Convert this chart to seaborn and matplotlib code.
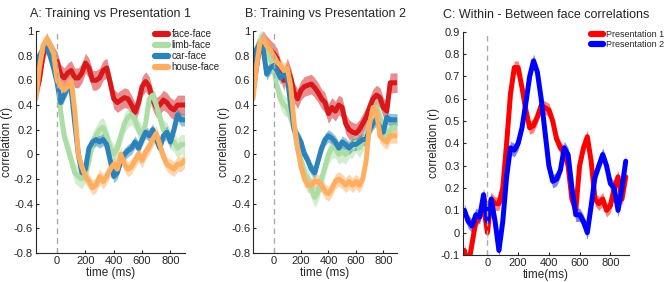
import numpy as np
import pandas as pd
import matplotlib
matplotlib.use('Agg')
import matplotlib.pyplot as plt
from matplotlib.lines import Line2D
import seaborn as sns

# time axis (ms)
times = list(range(-150, 901, 25))

# Panel A: training vs presentation 1
a_face = [0.50, 0.60, 0.80, 0.90, 0.85, 0.80, 0.75, 0.65, 0.62, 0.66, 0.68, 0.62, 0.62, 0.66,
          0.74, 0.70, 0.60, 0.60, 0.62, 0.68, 0.70, 0.58, 0.45, 0.42, 0.44, 0.46, 0.45, 0.40,
          0.34, 0.42, 0.55, 0.59, 0.55, 0.44, 0.38, 0.40, 0.44, 0.42, 0.38, 0.36, 0.40, 0.40, 0.40]
a_limb = [0.60, 0.75, 0.85, 0.90, 0.85, 0.80, 0.65, 0.35, 0.15, 0.05, -0.05, -0.15, -0.18, -0.20,
          -0.15, -0.05, 0.10, 0.15, 0.20, 0.22, 0.15, 0.05, 0.00, 0.05, 0.15, 0.25, 0.30, 0.32,
          0.28, 0.20, 0.15, 0.25, 0.45, 0.48, 0.40, 0.30, 0.20, 0.18, 0.12, 0.10, 0.05, 0.08, 0.08]
a_car = [0.65, 0.80, 0.85, 0.88, 0.80, 0.70, 0.58, 0.42, 0.48, 0.55, 0.52, 0.25, 0.00, -0.15,
         -0.12, 0.05, 0.10, 0.12, 0.10, 0.12, 0.08, -0.05, -0.18, -0.15, -0.05, 0.00, 0.03, 0.05,
         0.10, 0.05, 0.12, 0.18, 0.15, 0.20, 0.12, 0.05, 0.15, 0.18, 0.10, 0.20, 0.32, 0.28, 0.28]
a_house = [0.45, 0.70, 0.88, 0.93, 0.88, 0.82, 0.60, 0.55, 0.52, 0.55, 0.60, 0.35, 0.00, -0.10,
           -0.18, -0.22, -0.27, -0.25, -0.18, -0.22, -0.18, -0.12, -0.08, -0.12, 0.00, -0.08, -0.12, -0.10,
           -0.05, 0.00, -0.05, 0.02, 0.06, 0.12, 0.17, 0.08, -0.02, -0.08, -0.10, -0.12, -0.08, -0.08, -0.05]

# Panel B: training vs presentation 2
b_face = [0.50, 0.70, 0.88, 0.92, 0.88, 0.85, 0.82, 0.78, 0.68, 0.60, 0.70, 0.62, 0.50, 0.45,
          0.52, 0.55, 0.56, 0.57, 0.54, 0.50, 0.45, 0.42, 0.33, 0.38, 0.35, 0.40, 0.38, 0.25,
          0.20, 0.18, 0.17, 0.20, 0.25, 0.30, 0.38, 0.45, 0.48, 0.46, 0.38, 0.35, 0.58, 0.58, 0.58]
b_limb = [0.75, 0.85, 0.92, 0.92, 0.85, 0.78, 0.70, 0.55, 0.45, 0.40, 0.38, 0.30, 0.20, 0.05,
          -0.05, -0.15, -0.20, -0.28, -0.35, -0.30, -0.20, -0.10, 0.00, 0.05, 0.05, 0.00, 0.02, 0.00,
          0.05, 0.05, 0.10, 0.05, 0.10, 0.15, 0.25, 0.35, 0.38, 0.30, 0.20, 0.15, 0.20, 0.22, 0.22]
b_car = [0.75, 0.85, 0.90, 0.85, 0.65, 0.70, 0.72, 0.68, 0.62, 0.65, 0.62, 0.40, 0.20, 0.15,
         0.10, 0.00, -0.05, -0.12, -0.15, -0.05, 0.05, 0.12, 0.15, 0.13, 0.10, 0.05, 0.10, 0.08,
         0.05, 0.08, 0.08, 0.10, 0.12, 0.12, 0.20, 0.25, 0.28, 0.22, 0.18, 0.30, 0.28, 0.28, 0.28]
b_house = [0.45, 0.70, 0.90, 0.93, 0.88, 0.85, 0.80, 0.75, 0.72, 0.68, 0.70, 0.55, 0.25, 0.05,
           -0.10, -0.20, -0.25, -0.25, -0.22, -0.22, -0.25, -0.30, -0.32, -0.28, -0.22, -0.20, -0.22, -0.25,
           -0.22, -0.25, -0.22, -0.25, -0.20, -0.05, 0.25, 0.38, 0.35, 0.15, 0.12, 0.10, 0.15, 0.15, 0.15]

# Panel C: within - between face correlations
c_pres1 = [-0.08, -0.15, -0.05, 0.05, 0.08, 0.12, 0.00, 0.15, 0.13, 0.13, 0.20, 0.40, 0.62, 0.74,
           0.74, 0.65, 0.55, 0.47, 0.48, 0.52, 0.57, 0.56, 0.55, 0.50, 0.42, 0.38, 0.36, 0.30,
           0.15, 0.10, 0.30, 0.38, 0.43, 0.32, 0.15, 0.13, 0.15, 0.10, 0.12, 0.20, 0.25, 0.15, 0.25]
c_pres2 = [0.10, 0.05, 0.03, 0.08, 0.07, 0.17, 0.05, 0.15, 0.05, -0.08, 0.05, 0.25, 0.38, 0.37,
           0.40, 0.47, 0.58, 0.70, 0.77, 0.72, 0.60, 0.45, 0.30, 0.23, 0.24, 0.28, 0.38, 0.35,
           0.20, 0.08, 0.08, 0.05, 0.00, 0.12, 0.25, 0.30, 0.35, 0.30, 0.22, 0.20, 0.10, 0.20, 0.32]

cond_names = ['face-face', 'limb-face', 'car-face', 'house-face']
cond_colors = ['#d7191c', '#abdda4', '#2b83ba', '#fdae61']
cond_sem = [0.08, 0.08, 0.05, 0.06]
pres_names = ['Presentation 1', 'Presentation 2']
pres_colors = ['#ff0000', '#0000ff']
pres_sem = [0.03, 0.03]


def long_frame(series, names):
    parts = []
    for name, vals in zip(names, series):
        parts.append(pd.DataFrame({'time': times, 'r': vals, 'cond': name}))
    return pd.concat(parts, ignore_index=True)


def draw_panel(ax, series, names, colors, sems):
    df = long_frame(series, names)
    for vals, c, s in zip(series, colors, sems):
        v = np.array(vals)
        ax.fill_between(times, v - s, v + s, color=c, alpha=0.5, lw=0)
    sns.lineplot(data=df, x='time', y='r', hue='cond', palette=dict(zip(names, colors)),
                 lw=3.6, ax=ax, legend=False)
    ax.axvline(0, color='#aaaaaa', ls=(0, (4, 3)), lw=1)
    ax.set_xticks([0, 200, 400, 600, 800])
    ax.set_ylabel('correlation (r)', fontsize=8.5, labelpad=1)
    ax.tick_params(direction='in', length=2, labelsize=8, pad=2)
    sns.despine(ax=ax)


sns.set_style('ticks')
plt.rcParams['font.family'] = ['Liberation Sans', 'DejaVu Sans']

fig = plt.figure(figsize=(6.64, 2.82), dpi=100)
ax_a = fig.add_axes([0.054, 0.103, 0.224, 0.787])
ax_b = fig.add_axes([0.381, 0.103, 0.217, 0.787])
ax_c = fig.add_axes([0.697, 0.096, 0.250, 0.791])

draw_panel(ax_a, [a_face, a_limb, a_car, a_house], cond_names, cond_colors, cond_sem)
draw_panel(ax_b, [b_face, b_limb, b_car, b_house], cond_names, cond_colors, cond_sem)
draw_panel(ax_c, [c_pres1, c_pres2], pres_names, pres_colors, pres_sem)

for ax, title in [(ax_a, 'A: Training vs Presentation 1'), (ax_b, 'B: Training vs Presentation 2')]:
    ax.set_xlim(-150, 900)
    ax.set_ylim(-0.8, 1)
    ax.set_yticks(np.arange(-0.8, 1.01, 0.2))
    ax.set_yticklabels(['-0.8', '-0.6', '-0.4', '-0.2', '0', '0.2', '0.4', '0.6', '0.8', '1'])
    ax.set_xlabel('time (ms)', fontsize=8.5, labelpad=1)
    ax.set_title(title, fontsize=9, pad=10)

ax_c.set_xlim(-160, 920)
ax_c.set_ylim(-0.1, 0.9)
ax_c.set_yticks(np.arange(-0.1, 0.91, 0.1))
ax_c.set_yticklabels(['-0.1', '0', '0.1', '0.2', '0.3', '0.4', '0.5', '0.6', '0.7', '0.8', '0.9'])
ax_c.set_xlabel('time(ms)', fontsize=8.5, labelpad=1)
ax_c.set_title('C: Within - Between face correlations', fontsize=9, pad=10)

h_a = [Line2D([], [], color=c, lw=4.5) for c in cond_colors]
fig.legend(h_a, cond_names, loc='upper left', bbox_to_anchor=(0.228, 0.91), frameon=False,
           fontsize=7, handlelength=1.3, handletextpad=0.4, labelspacing=0.1, borderaxespad=0)
h_c = [Line2D([], [], color=c, lw=4.5) for c in pres_colors]
fig.legend(h_c, pres_names, loc='upper left', bbox_to_anchor=(0.885, 0.905), frameon=False,
           fontsize=6.5, handlelength=1.3, handletextpad=0.3, labelspacing=0.05, borderaxespad=0)

fig.savefig('out.png', dpi=100)
